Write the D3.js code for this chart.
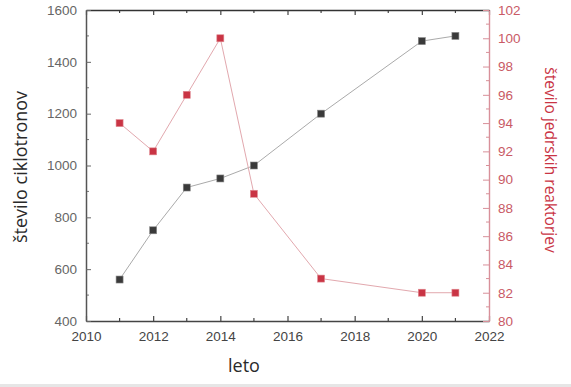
<!DOCTYPE html>
<html lang="sl">
  <head>
    <meta charset="UTF-8" />
    <title>Ciklotroni in reaktorji</title>
    <script src="https://d3js.org/d3.v7.min.js"></script>
    <style>
      body { margin: 0; background: #fff; }
      text { font-family: "Open Sans", "DejaVu Sans", sans-serif; }
      .tick text { font-family: "Liberation Sans", Arial, sans-serif; }
    </style>
  </head>
  <body>
    <svg width="571" height="387"></svg>
    <script>
      // data
      var years = [2011, 2012, 2013, 2014, 2015, 2017, 2020, 2021]
      var cyclotrons = [560, 750, 915, 950, 1000, 1200, 1480, 1500]
      var reactors = [94, 92, 96, 100, 89, 83, 82, 82]
      var xTicks = [2010, 2012, 2014, 2016, 2018, 2020, 2022]
      var leftTicks = [400, 600, 800, 1000, 1200, 1400, 1600]
      var rightTicks = [80, 82, 84, 86, 88, 90, 92, 94, 96, 98, 100, 102]

      var svg = d3.select('svg')
      var pLeft = 86, pRight = 489, pTop = 10, pBottom = 321
      var red = '#c93444'

      svg.append('rect').attr('x', 0).attr('y', 384).attr('width', 571).attr('height', 3).attr('fill', '#e6e6e6')

      var x = d3.scaleLinear().domain([2010, 2022]).range([pLeft, pRight])
      var yL = d3.scaleLinear().domain([400, 1600]).range([pBottom, pTop])
      var yR = d3.scaleLinear().domain([80, 102]).range([pBottom, pTop])

      // minor ticks
      var g = svg.append('g')
      g.selectAll('.mx').data(d3.range(2011, 2022, 2)).enter().append('line')
        .attr('x1', d => x(d)).attr('x2', d => x(d)).attr('y1', pBottom).attr('y2', pBottom - 3)
        .attr('stroke', '#444').attr('stroke-width', 1.2)
      g.selectAll('.mxt').data(d3.range(2011, 2022, 2)).enter().append('line')
        .attr('x1', d => x(d)).attr('x2', d => x(d)).attr('y1', pTop).attr('y2', pTop + 3)
        .attr('stroke', '#444').attr('stroke-width', 1.2)
      g.selectAll('.ml').data(d3.range(500, 1600, 200)).enter().append('line')
        .attr('x1', pLeft).attr('x2', pLeft + 3).attr('y1', d => yL(d)).attr('y2', d => yL(d))
        .attr('stroke', '#777')
      g.selectAll('.mr').data(d3.range(81, 102, 2)).enter().append('line')
        .attr('x1', pRight).attr('x2', pRight - 3).attr('y1', d => yR(d)).attr('y2', d => yR(d))
        .attr('stroke', '#d89098')

      // major axes
      var ax = svg.append('g').attr('transform', `translate(0,${pBottom})`)
        .call(d3.axisBottom(x).tickValues(xTicks).tickFormat(d3.format('d')).tickSizeInner(-5).tickSizeOuter(0).tickPadding(10))
      ax.select('.domain').attr('stroke', '#444').attr('stroke-width', 1.6)
      ax.selectAll('.tick line').attr('stroke', '#444').attr('stroke-width', 1.2)
      ax.selectAll('text').attr('font-size', 13.5).attr('fill', '#444')

      var axT = svg.append('g').attr('transform', `translate(0,${pTop})`)
        .call(d3.axisTop(x).tickValues(xTicks).tickFormat('').tickSizeInner(-5).tickSizeOuter(0))
      axT.select('.domain').attr('stroke', '#333').attr('stroke-width', 1.6)
      axT.selectAll('.tick line').attr('stroke', '#444').attr('stroke-width', 1.2)

      var ayL = svg.append('g').attr('transform', `translate(${pLeft},0)`)
        .call(d3.axisLeft(yL).tickValues(leftTicks).tickFormat(d3.format('d')).tickSizeInner(-5).tickSizeOuter(0).tickPadding(9))
      ayL.select('.domain').attr('stroke', '#555').attr('stroke-width', 1.5)
      ayL.selectAll('.tick line').attr('stroke', '#666')
      ayL.selectAll('text').attr('font-size', 13.5).attr('fill', '#666')

      var ayR = svg.append('g').attr('transform', `translate(${pRight},0)`)
        .call(d3.axisRight(yR).tickValues(rightTicks).tickFormat(d3.format('d')).tickSizeInner(-6).tickSizeOuter(0).tickPadding(9))
      ayR.select('.domain').attr('stroke', '#d8909a').attr('stroke-width', 1.4)
      ayR.selectAll('.tick line').attr('stroke', '#d8909a')
      ayR.selectAll('text').attr('font-size', 13.5).attr('fill', '#c95a66')

      // lines
      var cData = years.map((d, i) => [d, cyclotrons[i]])
      var rData = years.map((d, i) => [d, reactors[i]])
      svg.append('path').datum(cData)
        .attr('d', d3.line().x(d => x(d[0])).y(d => yL(d[1])))
        .attr('fill', 'none').attr('stroke', '#aaa').attr('stroke-width', 1)
      svg.append('path').datum(rData)
        .attr('d', d3.line().x(d => x(d[0])).y(d => yR(d[1])))
        .attr('fill', 'none').attr('stroke', '#e2a8ae').attr('stroke-width', 1)

      svg.selectAll('.cm').data(cData).enter().append('rect')
        .attr('x', d => x(d[0]) - 3.5).attr('y', d => yL(d[1]) - 3.5)
        .attr('width', 7).attr('height', 7)
        .attr('fill', '#3a3a3a').attr('stroke', '#888').attr('stroke-width', 0.6)
      svg.selectAll('.rm').data(rData).enter().append('rect')
        .attr('x', d => x(d[0]) - 3.5).attr('y', d => yR(d[1]) - 3.5)
        .attr('width', 7).attr('height', 7)
        .attr('fill', red).attr('stroke', '#e08890').attr('stroke-width', 0.6)

      // titles
      svg.append('text').attr('transform', 'translate(27,167) rotate(-90)')
        .attr('text-anchor', 'middle').attr('font-size', 18).attr('fill', '#2a2a2a')
        .text('število ciklotronov')
      svg.append('text').attr('transform', 'translate(545,160) rotate(90)')
        .attr('text-anchor', 'middle').attr('font-size', 15.5).attr('fill', red)
        .text('število jedrskih reaktorjev')
      svg.append('text').attr('x', 244).attr('y', 372)
        .attr('text-anchor', 'middle').attr('font-size', 18).attr('fill', '#2a2a2a')
        .text('leto')
    </script>
  </body>
</html>
